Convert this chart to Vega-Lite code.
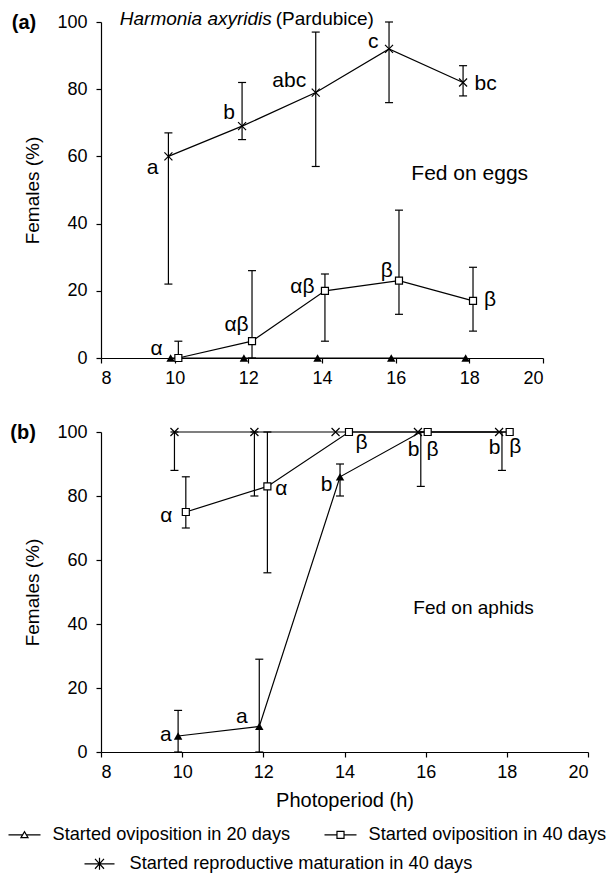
{
  "$schema": "https://vega.github.io/schema/vega-lite/v6.json",
  "padding": {"left": 7, "top": 10, "right": 2, "bottom": 2},
  "spacing": 35,
  "config": {
    "font": "Liberation Sans",
    "view": {"stroke": null},
    "axis": {"domainColor": "black", "tickColor": "black", "labelColor": "black", "titleColor": "black", "labelFontSize": 18, "titleFontSize": 19, "titleFontWeight": "normal", "grid": false, "tickSize": 5, "domainWidth": 1.2, "tickWidth": 1.2, "labelFont": "Liberation Sans", "titleFont": "Liberation Sans"},
    "axisY": {"labelPadding": 9, "titlePadding": 14},
    "axisX": {"labelPadding": 6, "titlePadding": 9, "titleFontSize": 20},
    "text": {"font": "Liberation Sans", "color": "black"}
  },
  "datasets": {
    "a": [
      {"series": "Started reproductive maturation in 40 days", "x": 9.83, "y": 60, "lo": 22, "hi": 67},
      {"series": "Started reproductive maturation in 40 days", "x": 11.83, "y": 69, "lo": 65, "hi": 82},
      {"series": "Started reproductive maturation in 40 days", "x": 13.83, "y": 79, "lo": 57, "hi": 97},
      {"series": "Started reproductive maturation in 40 days", "x": 15.82, "y": 92, "lo": 76, "hi": 100},
      {"series": "Started reproductive maturation in 40 days", "x": 17.83, "y": 82, "lo": 78, "hi": 87},
      {"series": "Started oviposition in 40 days", "x": 10.1, "y": 0, "lo": 0, "hi": 5},
      {"series": "Started oviposition in 40 days", "x": 12.1, "y": 5, "lo": 0, "hi": 26},
      {"series": "Started oviposition in 40 days", "x": 14.08, "y": 20, "lo": 5, "hi": 25},
      {"series": "Started oviposition in 40 days", "x": 16.09, "y": 23, "lo": 13, "hi": 44},
      {"series": "Started oviposition in 40 days", "x": 18.1, "y": 17, "lo": 8, "hi": 27},
      {"series": "Started oviposition in 20 days", "x": 9.89, "y": 0, "lo": null, "hi": null},
      {"series": "Started oviposition in 20 days", "x": 11.88, "y": 0, "lo": null, "hi": null},
      {"series": "Started oviposition in 20 days", "x": 13.88, "y": 0, "lo": null, "hi": null},
      {"series": "Started oviposition in 20 days", "x": 15.88, "y": 0, "lo": null, "hi": null},
      {"series": "Started oviposition in 20 days", "x": 17.9, "y": 0, "lo": null, "hi": null}
    ],
    "b": [
      {"series": "Started reproductive maturation in 40 days", "x": 9.81, "y": 100, "lo": 88, "hi": 100},
      {"series": "Started reproductive maturation in 40 days", "x": 11.78, "y": 100, "lo": 80, "hi": 100},
      {"series": "Started reproductive maturation in 40 days", "x": 13.78, "y": 100, "lo": null, "hi": null},
      {"series": "Started reproductive maturation in 40 days", "x": 15.81, "y": 100, "lo": null, "hi": null},
      {"series": "Started reproductive maturation in 40 days", "x": 17.81, "y": 100, "lo": null, "hi": null},
      {"series": "Started oviposition in 40 days", "x": 10.09, "y": 75, "lo": 70, "hi": 86},
      {"series": "Started oviposition in 40 days", "x": 12.1, "y": 83, "lo": 56, "hi": 100},
      {"series": "Started oviposition in 40 days", "x": 14.11, "y": 100, "lo": null, "hi": null},
      {"series": "Started oviposition in 40 days", "x": 16.05, "y": 100, "lo": null, "hi": null},
      {"series": "Started oviposition in 40 days", "x": 18.07, "y": 100, "lo": null, "hi": null},
      {"series": "Started oviposition in 20 days", "x": 9.9, "y": 5, "lo": 0, "hi": 13},
      {"series": "Started oviposition in 20 days", "x": 11.9, "y": 8, "lo": 0, "hi": 29},
      {"series": "Started oviposition in 20 days", "x": 13.89, "y": 86, "lo": 80, "hi": 90},
      {"series": "Started oviposition in 20 days", "x": 15.88, "y": 100, "lo": 83, "hi": 100},
      {"series": "Started oviposition in 20 days", "x": 17.88, "y": 100, "lo": 88, "hi": 100}
    ],
    "lab": [
      {"panel": "a", "x": 9.40, "y": 56.4, "text": "a"},
      {"panel": "a", "x": 11.48, "y": 73.0, "text": "b"},
      {"panel": "a", "x": 13.11, "y": 82.4, "text": "abc"},
      {"panel": "a", "x": 15.39, "y": 93.9, "text": "c"},
      {"panel": "a", "x": 18.44, "y": 81.5, "text": "bc"},
      {"panel": "a", "x": 9.51, "y": 2.8, "text": "α"},
      {"panel": "a", "x": 11.68, "y": 9.7, "text": "αβ"},
      {"panel": "a", "x": 13.47, "y": 21.25, "text": "αβ"},
      {"panel": "a", "x": 15.76, "y": 25.9, "text": "β"},
      {"panel": "a", "x": 18.56, "y": 17.2, "text": "β"},
      {"panel": "b", "x": 9.61, "y": 73.75, "text": "α"},
      {"panel": "b", "x": 12.44, "y": 82.1, "text": "α"},
      {"panel": "b", "x": 14.42, "y": 96.6, "text": "β"},
      {"panel": "b", "x": 16.17, "y": 94.4, "text": "β"},
      {"panel": "b", "x": 18.21, "y": 95.2, "text": "β"},
      {"panel": "b", "x": 9.60, "y": 5.3, "text": "a"},
      {"panel": "b", "x": 11.47, "y": 11.0, "text": "a"},
      {"panel": "b", "x": 13.56, "y": 83.4, "text": "b"},
      {"panel": "b", "x": 15.70, "y": 94.4, "text": "b"},
      {"panel": "b", "x": 17.70, "y": 95.0, "text": "b"}
    ]
  },
  "vconcat": [
    {
      "width": 442,
      "height": 336,
      "layer": [
        {
          "data": {"name": "a"},
          "encoding": {
            "x": {"field": "x", "type": "quantitative", "scale": {"domain": [8, 20], "nice": false, "zero": false}, "axis": {"values": [8, 10, 12, 14, 16, 18, 20], "title": null}},
            "y": {"field": "y", "type": "quantitative", "scale": {"domain": [0, 100], "nice": false}, "axis": {"values": [0, 20, 40, 60, 80, 100], "title": "Females (%)"}}
          },
          "layer": [
            {"mark": {"type": "line", "color": "black", "strokeWidth": 1.2}, "encoding": {"detail": {"field": "series"}}},
            {"transform": [{"filter": "isValid(datum.lo)"}], "mark": {"type": "rule", "color": "black", "strokeWidth": 1.2}, "encoding": {"y": {"field": "lo", "type": "quantitative"}, "y2": {"field": "hi"}}},
            {"transform": [{"filter": "isValid(datum.lo)"}], "mark": {"type": "tick", "orient": "horizontal", "size": 8, "thickness": 1.2, "color": "black", "opacity": 1}, "encoding": {"y": {"field": "lo", "type": "quantitative"}}},
            {"transform": [{"filter": "isValid(datum.hi)"}], "mark": {"type": "tick", "orient": "horizontal", "size": 8, "thickness": 1.2, "color": "black", "opacity": 1}, "encoding": {"y": {"field": "hi", "type": "quantitative"}}},
            {"transform": [{"filter": "datum.series === 'Started oviposition in 20 days'"}], "mark": {"type": "point", "shape": "triangle-up", "size": 72, "filled": true, "color": "black", "opacity": 1}},
            {"transform": [{"filter": "datum.series === 'Started oviposition in 40 days'"}], "mark": {"type": "point", "shape": "square", "size": 49, "filled": true, "fill": "white", "stroke": "black", "strokeWidth": 1.2, "opacity": 1}},
            {"transform": [{"filter": "datum.series === 'Started reproductive maturation in 40 days'"}], "mark": {"type": "point", "shape": "M-1,-1L1,1M-1,1L1,-1", "size": 64, "filled": false, "color": "black", "strokeWidth": 1.2, "opacity": 1}},
            {"data": {"name": "lab"}, "transform": [{"filter": "datum.panel === 'a'"}], "mark": {"type": "text", "fontSize": 21, "align": "center", "baseline": "middle"}, "encoding": {"text": {"field": "text"}}}
          ]
        },
        {"data": {"values": [{}]}, "mark": {"type": "text", "text": "Harmonia axyridis", "fontStyle": "italic", "fontSize": 19, "align": "left", "baseline": "middle"}, "encoding": {"x": {"datum": 8.51, "type": "quantitative"}, "y": {"datum": 100.8, "type": "quantitative"}}},
        {"data": {"values": [{}]}, "mark": {"type": "text", "text": "(Pardubice)", "fontSize": 19, "align": "right", "baseline": "middle"}, "encoding": {"x": {"datum": 15.41, "type": "quantitative"}, "y": {"datum": 100.8, "type": "quantitative"}}},
        {"data": {"values": [{}]}, "mark": {"type": "text", "text": "(a)", "fontWeight": "bold", "fontSize": 20, "align": "center", "baseline": "middle"}, "encoding": {"x": {"datum": 5.91, "type": "quantitative"}, "y": {"datum": 99.6, "type": "quantitative"}}},
        {"data": {"values": [{}]}, "mark": {"type": "text", "text": "Fed on eggs", "fontSize": 21, "align": "center", "baseline": "middle"}, "encoding": {"x": {"datum": 18.01, "type": "quantitative"}, "y": {"datum": 54.7, "type": "quantitative"}}}
      ]
    },
    {
      "width": 487,
      "height": 320,
      "layer": [
        {
          "data": {"name": "b"},
          "encoding": {
            "x": {"field": "x", "type": "quantitative", "scale": {"domain": [8, 20], "nice": false, "zero": false}, "axis": {"values": [8, 10, 12, 14, 16, 18, 20], "title": "Photoperiod (h)"}},
            "y": {"field": "y", "type": "quantitative", "scale": {"domain": [0, 100], "nice": false}, "axis": {"values": [0, 20, 40, 60, 80, 100], "title": "Females (%)"}}
          },
          "layer": [
            {"mark": {"type": "line", "color": "black", "strokeWidth": 1.2}, "encoding": {"detail": {"field": "series"}}},
            {"transform": [{"filter": "isValid(datum.lo)"}], "mark": {"type": "rule", "color": "black", "strokeWidth": 1.2}, "encoding": {"y": {"field": "lo", "type": "quantitative"}, "y2": {"field": "hi"}}},
            {"transform": [{"filter": "isValid(datum.lo)"}], "mark": {"type": "tick", "orient": "horizontal", "size": 8, "thickness": 1.2, "color": "black", "opacity": 1}, "encoding": {"y": {"field": "lo", "type": "quantitative"}}},
            {"transform": [{"filter": "isValid(datum.hi)"}], "mark": {"type": "tick", "orient": "horizontal", "size": 8, "thickness": 1.2, "color": "black", "opacity": 1}, "encoding": {"y": {"field": "hi", "type": "quantitative"}}},
            {"transform": [{"filter": "datum.series === 'Started oviposition in 20 days' && datum.y < 100"}], "mark": {"type": "point", "shape": "triangle-up", "size": 72, "filled": true, "color": "black", "opacity": 1}},
            {"transform": [{"filter": "datum.series === 'Started oviposition in 40 days'"}], "mark": {"type": "point", "shape": "square", "size": 49, "filled": true, "fill": "white", "stroke": "black", "strokeWidth": 1.2, "opacity": 1}},
            {"transform": [{"filter": "datum.series === 'Started reproductive maturation in 40 days'"}], "mark": {"type": "point", "shape": "M-1,-1L1,1M-1,1L1,-1", "size": 64, "filled": false, "color": "black", "strokeWidth": 1.2, "opacity": 1}},
            {"data": {"name": "lab"}, "transform": [{"filter": "datum.panel === 'b'"}], "mark": {"type": "text", "fontSize": 21, "align": "center", "baseline": "middle"}, "encoding": {"text": {"field": "text"}}}
          ]
        },
        {"data": {"values": [{}]}, "mark": {"type": "text", "text": "(b)", "fontWeight": "bold", "fontSize": 20, "align": "center", "baseline": "middle"}, "encoding": {"x": {"datum": 6.08, "type": "quantitative"}, "y": {"datum": 99.7, "type": "quantitative"}}},
        {"data": {"values": [{}]}, "mark": {"type": "text", "text": "Fed on aphids", "fontSize": 19, "align": "center", "baseline": "middle"}, "encoding": {"x": {"datum": 17.18, "type": "quantitative"}, "y": {"datum": 44.9, "type": "quantitative"}}},
        {
          "data": {"values": [{"series": "none"}]},
          "transform": [{"filter": "false"}],
          "mark": {"type": "point", "size": 1024, "filled": false, "color": "black", "strokeWidth": 1.2, "opacity": 1},
          "encoding": {
            "shape": {"field": "series", "type": "nominal",
              "scale": {"domain": ["Started oviposition in 20 days", "Started oviposition in 40 days"], "range": ["M-1,0H-0.12M0.12,0H1M-0.22,0.17L0,-0.2L0.22,0.17Z", "M-1,0H-0.22M0.22,0H1M-0.22,-0.22H0.22V0.22H-0.22Z"]},
              "legend": {"orient": "none", "legendX": -93.5, "legendY": 795.5, "columns": 2, "columnPadding": 31, "title": null, "padding": 0, "labelFontSize": 18.2, "labelFont": "Liberation Sans", "labelColor": "black", "labelOffset": 11, "labelLimit": 400, "symbolSize": 1024, "symbolStrokeWidth": 1.2, "symbolStrokeColor": "black", "symbolOpacity": 1}}
          }
        },
        {
          "data": {"values": [{"series": "none"}]},
          "transform": [{"filter": "false"}],
          "mark": {"type": "point", "shape": "M-1,0H1M-0.3,-0.33L0.3,0.33M-0.3,0.33L0.3,-0.33M0,-0.4V0.4", "size": 900, "filled": false, "strokeWidth": 1.2, "opacity": 1},
          "encoding": {
            "color": {"field": "series", "type": "nominal",
              "scale": {"domain": ["Started reproductive maturation in 40 days"], "range": ["black"]},
              "legend": {"orient": "none", "legendX": -17.5, "legendY": 825.8, "title": null, "padding": 0, "labelFontSize": 18.2, "labelFont": "Liberation Sans", "labelColor": "black", "labelOffset": 14, "labelLimit": 500, "symbolSize": 900, "symbolType": "M-1,0H1M-0.3,-0.33L0.3,0.33M-0.3,0.33L0.3,-0.33M0,-0.4V0.4", "symbolStrokeWidth": 1.2, "symbolStrokeColor": "black", "symbolFillColor": "transparent", "symbolOpacity": 1}}
          }
        }
      ]
    }
  ]
}
